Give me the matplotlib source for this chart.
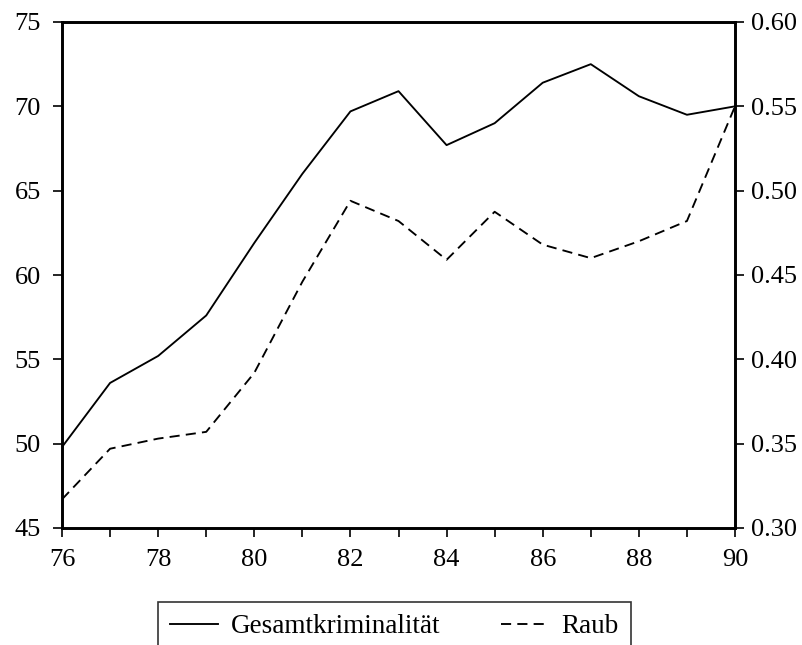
import matplotlib
matplotlib.use("Agg")
import matplotlib.pyplot as plt
from matplotlib.ticker import MultipleLocator, FormatStrFormatter

years = [76, 77, 78, 79, 80, 81, 82, 83, 84, 85, 86, 87, 88, 89, 90]
gesamt = [49.8, 53.6, 55.2, 57.6, 61.9, 66.0, 69.7, 70.9, 67.7, 69.0, 71.4, 72.5, 70.6, 69.5, 70.0]
raub = [0.317, 0.347, 0.353, 0.357, 0.392, 0.446, 0.494, 0.482, 0.459, 0.4875, 0.468, 0.460, 0.470, 0.482, 0.550]
labels = ["Gesamtkriminalität", "Raub"]

plt.rcParams['font.family'] = ['Liberation Serif', 'DejaVu Serif']

fig = plt.figure(figsize=(8.03, 6.45), dpi=100)
ax = fig.add_axes([62/803, 1-528/645, (735-62)/803, (528-22)/645])
ax2 = ax.twinx()

l1, = ax.plot(years, gesamt, color='black', lw=1.35)
l2, = ax2.plot(years, raub, color='black', lw=1.35, linestyle=(0, (5.4, 3.3)))

ax.set_xlim(76, 90)
ax.set_ylim(45, 75)
ax2.set_ylim(0.30, 0.60)
ax.xaxis.set_major_locator(MultipleLocator(2))
ax.xaxis.set_minor_locator(MultipleLocator(1))
ax.yaxis.set_major_locator(MultipleLocator(5))
ax2.yaxis.set_major_locator(MultipleLocator(0.05))
ax2.yaxis.set_major_formatter(FormatStrFormatter('%.2f'))

fs = 19
for a in (ax, ax2):
    for s in a.spines.values():
        s.set_linewidth(1.9)
        s.set_color('black')
    a.tick_params(which='both', direction='out', length=6.3, width=1.2,
                  labelsize=fs, colors='black')
ax.tick_params(axis='x', which='both', top=False, pad=9)
ax.tick_params(axis='y', pad=9)
ax2.tick_params(axis='y', pad=5.5)

leg = fig.legend([l1, l2], labels, loc='upper left',
                 bbox_to_anchor=(158/803, 1-602/645), ncol=2,
                 frameon=True, fancybox=False, edgecolor='black',
                 fontsize=19.5, handlelength=1.78, handletextpad=0.45,
                 columnspacing=2.25, borderpad=0.45, borderaxespad=0)
leg.get_frame().set_linewidth(1.2)

fig.savefig('out.png', dpi=100)
